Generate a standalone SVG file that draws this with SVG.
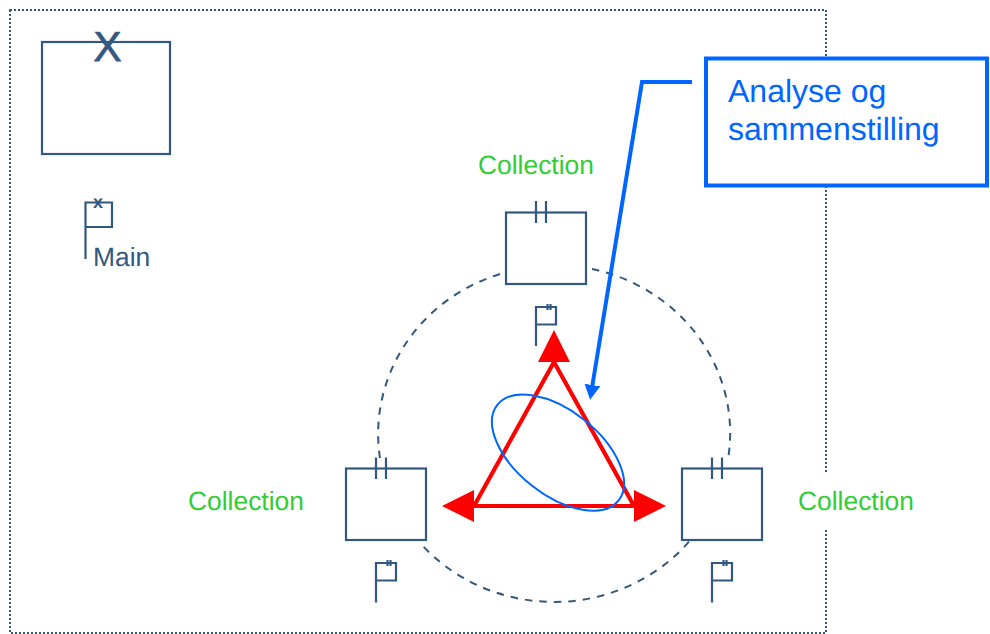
<svg xmlns="http://www.w3.org/2000/svg" width="990" height="634" viewBox="0 0 990 634">
<style>
text{font-family:"Liberation Sans",Arial,sans-serif;text-rendering:geometricPrecision}
.ln{fill:none;stroke:#33587f;stroke-width:2.200}
.dot{fill:none;stroke:#33587f;stroke-width:2;stroke-dasharray:2 2}
.dash{fill:none;stroke:#33587f;stroke-width:2;stroke-dasharray:7.500 7}
.navy{fill:#33587f}
.green{fill:#33cc33;font-size:26.400px}
.blue{fill:#0066ff;font-size:32px}
.red{fill:none;stroke:#ff0000;stroke-width:4.200}
</style>
<defs>
<marker id="arrowH" markerUnits="userSpaceOnUse" markerWidth="32" markerHeight="32" refX="0" refY="16" orient="auto-start-reverse" viewBox="0 0 32 32"><path d="M0 0L32 16L0 32Z" fill="#ff0000"/></marker>
<marker id="arrowUp" markerUnits="userSpaceOnUse" markerWidth="32" markerHeight="32" refX="0" refY="16" orient="-90" viewBox="0 0 32 32"><path d="M0 0L32 16L0 32Z" fill="#ff0000"/></marker>
<marker id="arrowB" markerUnits="userSpaceOnUse" markerWidth="15" markerHeight="16" refX="1" refY="8" orient="auto" viewBox="0 0 15 16"><path d="M0 0L15 8L0 16Z" fill="#0066ff"/></marker>
</defs>
<rect width="990" height="634" fill="#fff"/>
<g id="boundary"><rect class="dot" x="10" y="10" width="816" height="623"/></g>
<g id="main-node">
<rect class="ln" x="42" y="42" width="128" height="112"/>
<text class="navy" x="93.500" y="60.500" font-size="42" stroke="#33587f" stroke-width="0.800">X</text>
</g>
<g id="main-flag">
<path class="ln" d="M85.500 259V202.500H112V227H85.500"/>
<text class="navy" x="93" y="207.500" font-size="18" font-weight="bold">x</text>
<text class="navy" x="93" y="266" font-size="26.400">Main</text>
</g>
<g id="connectors">
<path class="dash" d="M500 274A176 168 0 0 0 381 464"/>
<path class="dash" d="M592 269A176 168 0 0 1 727.700 461"/>
<path class="dash" d="M689 541.700A176 168 0 0 1 421 544"/>
<path class="red" d="M474 506H634" marker-start="url(#arrowH)" marker-end="url(#arrowH)"/>
<path class="red" d="M474 506L554 362L634 506" marker-mid="url(#arrowUp)"/>
<ellipse cx="558" cy="452.700" rx="77.200" ry="42" transform="rotate(38.200 558 452.700)" fill="none" stroke="#0066ff" stroke-width="2"/>
<path d="M692 82H642L592.300 386" fill="none" stroke="#0066ff" stroke-width="4" marker-end="url(#arrowB)"/>
</g>
<g id="collection-top">
<text class="green" x="478" y="174">Collection</text>
<rect class="ln" x="506" y="212.500" width="80" height="71.500"/>
<path class="ln" d="M536 201V223M546 201V223"/>
<path class="ln" d="M536 346V307H556V324.500H536M547.500 304V310M550.500 304V310"/>
</g>
<g id="collection-left">
<text class="green" x="188" y="510">Collection</text>
<rect class="ln" x="346" y="468.500" width="80" height="71.500"/>
<path class="ln" d="M376 457.500V479M386 457.500V479"/>
<path class="ln" d="M376 602.500V563H396V580.500H376M387.500 560V566M390.500 560V566"/>
</g>
<g id="collection-right">
<rect x="790" y="473" width="130" height="55" fill="#fff"/>
<text class="green" x="798" y="510">Collection</text>
<rect class="ln" x="682" y="468.500" width="80" height="71.500"/>
<path class="ln" d="M712 457.500V479M722 457.500V479"/>
<path class="ln" d="M712 602.500V563H732V580.500H712M723.500 560V566M726.500 560V566"/>
</g>
<g id="callout">
<rect x="706" y="58.500" width="281" height="127" fill="#fff" stroke="#0066ff" stroke-width="4"/>
<text class="blue" x="728" y="102">Analyse og</text>
<text class="blue" x="728" y="140">sammenstilling</text>
</g>
</svg>
